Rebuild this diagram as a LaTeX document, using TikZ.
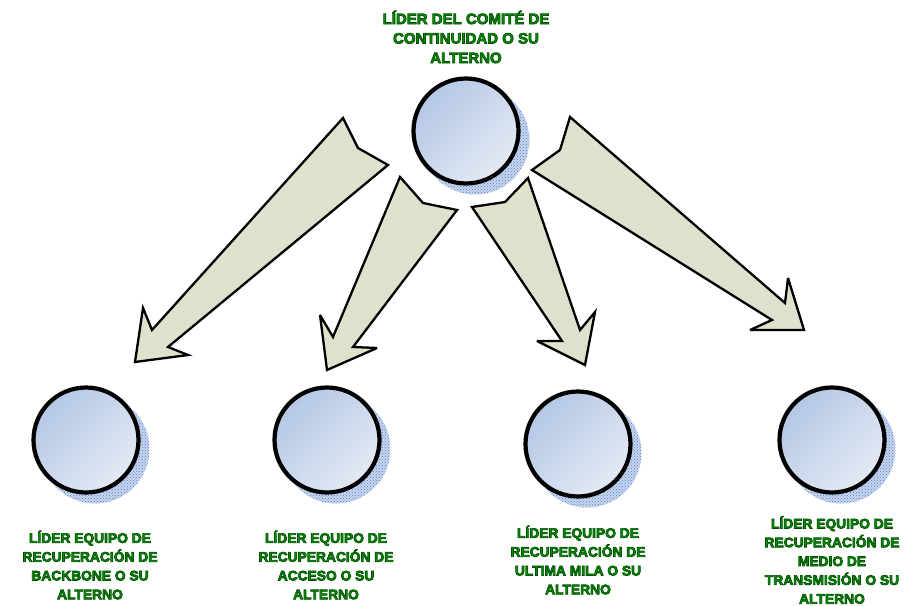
\documentclass[tikz,border=0pt]{standalone}
\usepackage{fontspec}
\setmainfont{Liberation Sans}
\usetikzlibrary{patterns}
\definecolor{lblgreen}{RGB}{10,140,10}
\definecolor{arrowfill}{RGB}{222,225,204}
\definecolor{cdark}{RGB}{180,199,228}
\definecolor{clight}{RGB}{228,234,245}
\definecolor{shadowblue}{RGB}{85,125,200}
\definecolor{shadowbg}{RGB}{200,213,238}
\newcommand{\outlinetext}[1]{\special{pdf:literal direct 2 Tr 0.7 w 0 0.32 0 RG}#1\special{pdf:literal direct 0 Tr}}
\tikzset{
  circnode/.style={circle, draw=black, line width=4.2pt, minimum size=105pt, inner sep=0pt,
    top color=cdark, bottom color=clight, shading angle=45},
  shadowbase/.style={circle, minimum size=109pt, inner sep=0pt, fill=shadowbg},
  shadowc/.style={circle, minimum size=109pt, inner sep=0pt, pattern=crosshatch dots, pattern color=shadowblue},
  lbl/.style={text=lblgreen, align=center, font=\bfseries\fontsize{13.8}{18.8}\selectfont, inner sep=0pt},
  toplbl/.style={text=lblgreen, align=center, font=\bfseries\fontsize{15}{19.5}\selectfont, inner sep=0pt},
  bigarrow/.style={draw=black, line width=2.3pt, fill=arrowfill, line join=miter, miter limit=4}
}
\begin{document}
\begin{tikzpicture}[x=1pt, y=-1pt]
\useasboundingbox (0,0) rectangle (910,605);
% shadows
\foreach \cx/\cy in {466/131, 86/440, 327/440, 578/444, 832/440}{
  \node[shadowbase] at (\cx+9,\cy+9) {};
  \node[shadowc] at (\cx+9,\cy+9) {};
}
% circles
\node[circnode] (top) at (466,131) {};
\node[circnode] (c1) at (86,440) {};
\node[circnode] (c2) at (327,440) {};
\node[circnode] (c3) at (578,444) {};
\node[circnode] (c4) at (832,440) {};
% arrows
\draw[bigarrow] (343,118) -- (358,148) -- (388,165) -- (168,347) -- (188,355) -- (135,362) -- (143,308) -- (152,330) -- cycle;
\draw[bigarrow] (400,177) -- (423,203) -- (457,210) -- (353,347) -- (377,348) -- (327,370) -- (320,315) -- (333,337) -- cycle;
\draw[bigarrow] (528,178) -- (505,202) -- (472,207) -- (562,341) -- (537,341) -- (585,365) -- (595,312) -- (580,330) -- cycle;
\draw[bigarrow] (570,117) -- (560,150) -- (532,170) -- (772,320) -- (750,330) -- (804,330) -- (788,278) -- (785,303) -- cycle;
% labels
\node[toplbl] (ltop) at (466,37) {\outlinetext{LÍDER DEL COMITÉ DE}\\\outlinetext{CONTINUIDAD O SU}\\\outlinetext{ALTERNO}};
\node[lbl] (l1) at (90,565) {\outlinetext{LÍDER EQUIPO DE}\\\outlinetext{RECUPERACIÓN DE}\\\outlinetext{BACKBONE O SU}\\\outlinetext{ALTERNO}};
\node[lbl] (l2) at (326,565) {\outlinetext{LÍDER EQUIPO DE}\\\outlinetext{RECUPERACIÓN DE}\\\outlinetext{ACCESO O SU}\\\outlinetext{ALTERNO}};
\node[lbl] (l3) at (578,560) {\outlinetext{LÍDER EQUIPO DE}\\\outlinetext{RECUPERACIÓN DE}\\\outlinetext{ULTIMA MILA O SU}\\\outlinetext{ALTERNO}};
\node[lbl] (l4) at (832,560) {\outlinetext{LÍDER EQUIPO DE}\\\outlinetext{RECUPERACIÓN DE}\\\outlinetext{MEDIO DE}\\\outlinetext{TRANSMISIÓN O SU}\\\outlinetext{ALTERNO}};
\end{tikzpicture}
\end{document}
